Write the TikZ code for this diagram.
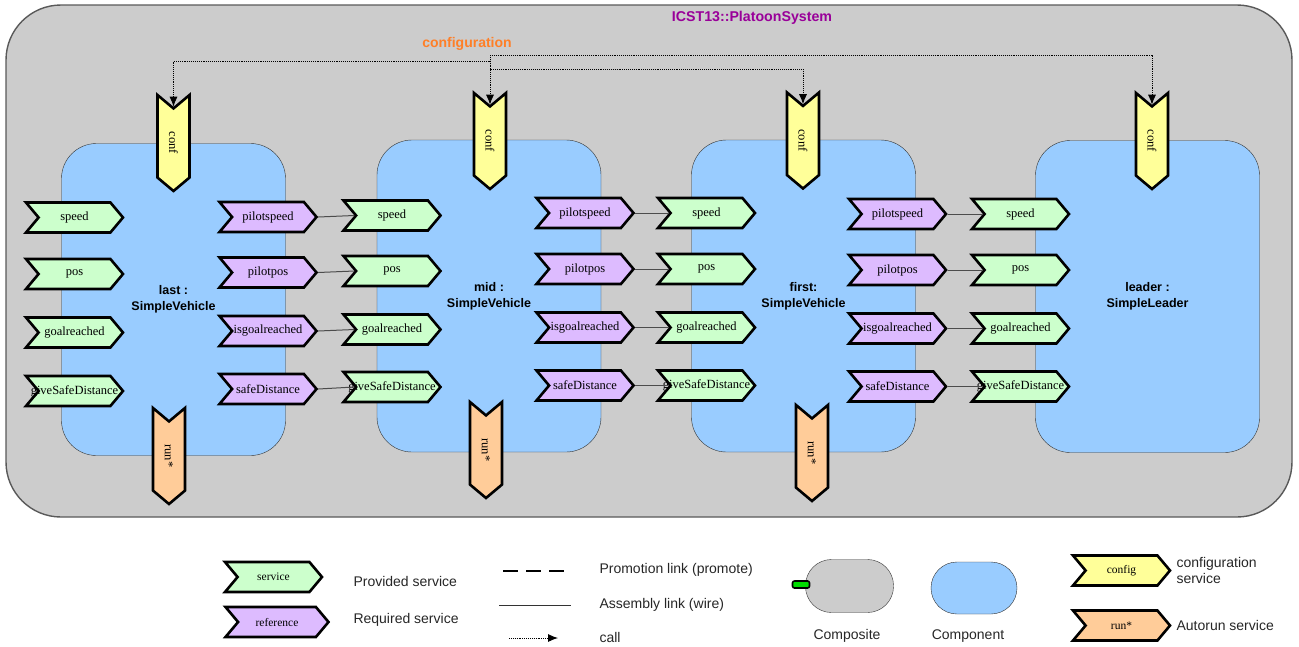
\documentclass[tikz,border=0pt]{standalone}
\usepackage{fontspec}
\setmainfont{Liberation Serif}
\setsansfont{Liberation Sans}
\usetikzlibrary{shapes.symbols,arrows.meta}

\definecolor{compgray}{HTML}{CCCCCC}
\definecolor{compblue}{HTML}{99CCFF}
\definecolor{provgreen}{HTML}{CCFFCC}
\definecolor{refpurple}{HTML}{DDBBFF}
\definecolor{confyellow}{HTML}{FFFF99}
\definecolor{runorange}{HTML}{FFCC99}
\definecolor{titlepurple}{HTML}{990099}
\definecolor{cfgorange}{HTML}{FF7F27}
\definecolor{portgreen}{HTML}{00DD00}

\newcommand{\lbl}[1]{\makebox[60pt]{#1}}

\tikzset{
	chevron/.style={signal, signal from=west, signal to=east, signal pointer angle=100,
		draw=black, line width=2.6pt, inner sep=0pt, minimum width=97pt, minimum height=30pt,
		font=\fontsize{12.5}{14}\selectfont},
	prov/.style={chevron, fill=provgreen},
	reqd/.style={chevron, fill=refpurple},
	conf/.style={chevron, fill=confyellow, rotate=-90, minimum width=96pt, minimum height=32pt},
	autorun/.style={chevron, fill=runorange, rotate=-90, minimum width=96pt, minimum height=32pt},
	component/.style={draw=black!80, fill=compblue, rounded corners=35pt, align=center,
		minimum width=224pt, minimum height=312pt, font=\sffamily\bfseries\fontsize{12.5}{16}\selectfont},
	wire/.style={draw=black!70, line width=1pt},
	call/.style={densely dotted, line width=0.9pt, -{Latex[length=10pt,width=8pt]}},
	legendtxt/.style={anchor=west, align=left, text=black!85, font=\sffamily\fontsize{14}{16}\selectfont},
}

\begin{document}
\begin{tikzpicture}[x=1pt, y=-1pt]
			\useasboundingbox (0,0) rectangle (1299,646);
			
			% the composite
			\node[draw=black!65, line width=1.4pt, fill=compgray, rounded corners=55pt,
				minimum width=1286pt, minimum height=512pt] (platoon) at (649,261) {};
			\node[text=titlepurple, font=\sffamily\bfseries\fontsize{14.2}{16}\selectfont] (title) at (752,18) {ICST13::PlatoonSystem};
			
			% components
			\node[component] (last) at (173.5,299.5) {last :\\SimpleVehicle};
			\node[component] (mid) at (489,296) {mid :\\SimpleVehicle};
			\node[component] (first) at (803.5,296) {first:\\SimpleVehicle};
			\node[component] (leader) at (1147.5,296.5) {leader :\\SimpleLeader};
			
			% services and references
			\foreach \nm/\y in {speed/217.5, pos/274, goalreached/332.5, giveSafeDistance/391}
				\node[prov] (last-\nm) at (74.5,\y) {\lbl{\nm}};
			\foreach \nm/\y in {pilotspeed/217, pilotpos/272.5, isgoalreached/331, safeDistance/389}
				\node[reqd] (last-\nm) at (268,\y) {\lbl{\nm}};
			\foreach \nm/\y in {speed/215.5, pos/271, goalreached/329.5, giveSafeDistance/387}
				\node[prov] (mid-\nm) at (392,\y) {\lbl{\nm}};
			\foreach \nm/\y in {pilotspeed/213, pilotpos/269, isgoalreached/327.5, safeDistance/385.5}
				\node[reqd] (mid-\nm) at (585,\y) {\lbl{\nm}};
			\foreach \nm/\y in {speed/213, pos/269, goalreached/327.5, giveSafeDistance/385.5}
				\node[prov] (first-\nm) at (706.5,\y) {\lbl{\nm}};
			\foreach \nm/\y in {pilotspeed/214, pilotpos/270, isgoalreached/328.5, safeDistance/386.5}
				\node[reqd] (first-\nm) at (897.5,\y) {\lbl{\nm}};
			\foreach \nm/\y in {speed/214, pos/270, goalreached/328.5, giveSafeDistance/386.5}
				\node[prov] (leader-\nm) at (1020.5,\y) {\lbl{\nm}};
			
			\node[conf] (last-conf) at (173.5,143) {\lbl{conf}};
			\node[conf] (mid-conf) at (490,141) {\lbl{conf}};
			\node[conf] (first-conf) at (803,140.5) {\lbl{conf}};
			\node[conf] (leader-conf) at (1152,141) {\lbl{conf}};
			
			\node[autorun] (last-run) at (169,456) {\lbl{run*}};
			\node[autorun] (mid-run) at (486,450) {\lbl{run*}};
			\node[autorun] (first-run) at (812,453) {\lbl{run*}};
			
			% wires
			\foreach \a/\b in {last/mid, mid/first, first/leader}
				\foreach \r/\p in {pilotspeed/speed, pilotpos/pos, isgoalreached/goalreached, safeDistance/giveSafeDistance}
					\draw[wire] (\a-\r.east) -- (\b-\p.west);
			
			% configuration calls
			\node[text=cfgorange, font=\sffamily\bfseries\fontsize{14}{16}\selectfont] (cfglabel) at (467,44) {configuration};
			\coordinate (cfg) at (490,55);
			\draw[call] (cfg) -- (mid-conf.west);
			\draw[call] (cfg) -| (leader-conf.west);
			\draw[call] (cfg) -- ++(0,6) -| (last-conf.west);
			\draw[call] (cfg) -- ++(0,14) -| (first-conf.west);
			
			% legend
			\node[prov, font=\fontsize{11.5}{13}\selectfont] (lg-prov) at (273.5,577) {service};
			\node[reqd, minimum width=103pt, font=\fontsize{11.5}{13}\selectfont] (lg-reqd) at (277,622) {reference};
			\node[legendtxt] (lg-prov-txt) at (350,581) {Provided service};
			\node[legendtxt] (lg-reqd-txt) at (350,620) {Required service};
			
			\coordinate (promote-a) at (503,571);
			\coordinate (promote-b) at (565,571);
			\coordinate (wire-a) at (499,605);
			\coordinate (wire-b) at (571,605);
			\coordinate (call-a) at (509,638);
			\coordinate (call-b) at (558,638);
			\draw[line width=1.3pt, dash pattern=on 15pt off 8pt] (promote-a) -- (promote-b);
			\draw[line width=1pt, black!80] (wire-a) -- (wire-b);
			\draw[call] (call-a) -- (call-b);
			\node[legendtxt] (lg-promote) at (596,570) {Promotion link (promote)};
			\node[legendtxt] (lg-wire) at (596,605) {Assembly link (wire)};
			\node[legendtxt] (lg-call) at (596,637) {call};
			
			\node[draw=black!80, fill=compgray, rounded corners=26pt, minimum width=88pt, minimum height=53pt] (lg-comp) at (849.5,586) {};
			\node[draw=black, line width=1.6pt, fill=portgreen, rounded corners=2pt, inner sep=0pt,
				minimum width=17pt, minimum height=7pt] (lg-port) at (801,584.5) {};
			\node[draw=black!80, fill=compblue, rounded corners=26pt, minimum width=86pt, minimum height=52pt] (lg-cpt) at (974,588) {};
			\node[font=\sffamily\fontsize{14}{16}\selectfont, text=black!85] (lg-comp-txt) at (847,636) {Composite};
			\node[font=\sffamily\fontsize{14}{16}\selectfont, text=black!85] (lg-cpt-txt) at (968,636) {Component};
			
			\node[chevron, fill=confyellow, font=\fontsize{11.5}{13}\selectfont] (lg-conf) at (1121.5,570.5) {config};
			\node[chevron, fill=runorange, font=\fontsize{11.5}{13}\selectfont] (lg-run) at (1121.5,625.5) {run*};
			\node[legendtxt] (lg-conf-txt) at (1173,570) {configuration\\service};
			\node[legendtxt] (lg-run-txt) at (1173,625) {Autorun service};
			
\end{tikzpicture}
\end{document}
